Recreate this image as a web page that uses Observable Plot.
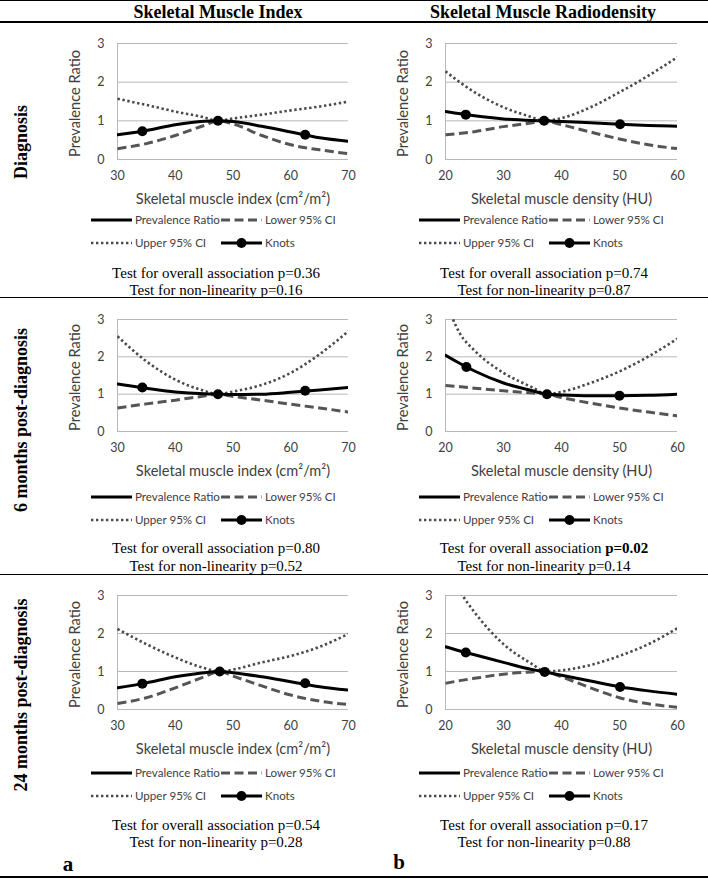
<!DOCTYPE html>
<html><head><meta charset="utf-8">
<script src="https://cdn.jsdelivr.net/npm/d3@7"></script>
<script src="https://cdn.jsdelivr.net/npm/@observablehq/plot@0.6"></script>
<style>
body{margin:0;background:#fff;}
#page{position:relative;width:708px;height:879px;overflow:hidden;background:#fff;font-family:"Liberation Serif","Times New Roman",serif;color:#000;}
.hline{position:absolute;left:0;width:708px;background:#000;}
.c{position:absolute;transform:translate(-50%,-50%);white-space:nowrap;line-height:1;}
.head{font-weight:bold;font-size:18px;}
.rowlab{font-weight:bold;font-size:18px;transform:translate(-50%,-50%) rotate(-90deg);}
.test{font-size:15px;}
.letter{font-weight:bold;font-size:21px;}
.abs{position:absolute;}
</style></head>
<body><div id="page"></div>
<script>
// ---------- text / ticks ----------
const colTitles = ["Skeletal Muscle Index", "Skeletal Muscle Radiodensity"];
const rowTitles = ["Diagnosis", "6 months post-diagnosis", "24 months post-diagnosis"];
const xLabels = ["Skeletal muscle index (cm²/m²)", "Skeletal muscle density (HU)"];
const yLabel = "Prevalence Ratio";
const smiTicks = [30, 40, 50, 60, 70];
const smdTicks = [20, 30, 40, 50, 60];
const yTicks = [0, 1, 2, 3];
const legendLabels = ["Prevalence Ratio", "Lower 95% CI", "Upper 95% CI", "Knots"];
const panelLetters = ["a", "b"];
// p-values [row][col]
const overallP = [["0.36", "0.74"], ["0.80", "0.02"], ["0.54", "0.17"]];
const nonlinP = [["0.16", "0.87"], ["0.52", "0.14"], ["0.28", "0.88"]];

// ---------- Diagnosis ----------
const diagSmiX  = [30, 35, 40, 45, 47.4, 50, 55, 60, 65, 70];
const diagSmiPR = [0.64, 0.75, 0.90, 0.99, 1.00, 0.98, 0.86, 0.71, 0.56, 0.47];
const diagSmiLo = [0.28, 0.41, 0.62, 0.88, 1.00, 0.92, 0.62, 0.38, 0.25, 0.15];
const diagSmiHi = [1.57, 1.41, 1.24, 1.09, 1.00, 1.06, 1.16, 1.27, 1.37, 1.50];
const diagSmiKx = [34.3, 47.4, 62.5];
const diagSmiKy = [0.73, 1.00, 0.64];

const diagSmdX  = [20, 25, 30, 35, 37, 40, 45, 50, 55, 60];
const diagSmdPR = [1.24, 1.13, 1.05, 1.01, 1.00, 0.98, 0.95, 0.91, 0.88, 0.86];
const diagSmdLo = [0.64, 0.72, 0.85, 0.95, 1.00, 0.90, 0.71, 0.53, 0.38, 0.28];
const diagSmdHi = [2.28, 1.74, 1.35, 1.09, 1.00, 1.07, 1.35, 1.74, 2.17, 2.65];
const diagSmdKx = [23.5, 37, 50.1];
const diagSmdKy = [1.16, 1.00, 0.91];

// ---------- 6 months ----------
const m6SmiX  = [30, 35, 40, 45, 47.4, 50, 55, 60, 65, 70];
const m6SmiPR = [1.27, 1.16, 1.06, 1.01, 1.00, 0.99, 1.00, 1.05, 1.11, 1.18];
const m6SmiLo = [0.63, 0.74, 0.84, 0.95, 1.00, 0.94, 0.84, 0.73, 0.63, 0.52];
const m6SmiHi = [2.55, 1.88, 1.39, 1.09, 1.00, 1.07, 1.25, 1.57, 2.07, 2.69];
const m6SmiKx = [34.3, 47.4, 62.5];
const m6SmiKy = [1.18, 1.00, 1.09];

const m6SmdX  = [20, 22.5, 25, 30, 35, 37.5, 40, 45, 50, 55, 60];
const m6SmdPR = [2.04, 1.82, 1.62, 1.30, 1.09, 1.00, 0.98, 0.96, 0.96, 0.97, 1.00];
const m6SmdLo = [1.23, 1.20, 1.16, 1.09, 1.03, 1.00, 0.91, 0.76, 0.63, 0.52, 0.42];
const m6SmdHi = [3.50, 2.62, 2.17, 1.57, 1.18, 1.00, 1.06, 1.30, 1.61, 2.01, 2.49];
const m6SmdKx = [23.6, 37.5, 50];
const m6SmdKy = [1.73, 1.00, 0.96];

// ---------- 24 months ----------
const m24SmiX  = [30, 35, 40, 45, 47.7, 50, 55, 60, 65, 70];
const m24SmiPR = [0.57, 0.70, 0.86, 0.97, 1.00, 0.97, 0.86, 0.73, 0.60, 0.51];
const m24SmiLo = [0.16, 0.31, 0.57, 0.86, 1.00, 0.88, 0.62, 0.38, 0.22, 0.13];
const m24SmiHi = [2.12, 1.72, 1.37, 1.09, 1.00, 1.05, 1.24, 1.41, 1.65, 1.99];
const m24SmiKx = [34.3, 47.7, 62.5];
const m24SmiKy = [0.68, 1.00, 0.69];

const m24SmdX  = [20, 22.5, 25, 30, 35, 37.1, 40, 45, 50, 55, 60];
const m24SmdPR = [1.65, 1.54, 1.44, 1.24, 1.05, 0.99, 0.90, 0.75, 0.60, 0.49, 0.40];
const m24SmdLo = [0.69, 0.76, 0.82, 0.93, 0.99, 1.00, 0.86, 0.57, 0.31, 0.15, 0.06];
const m24SmdHi = [3.75, 3.10, 2.56, 1.72, 1.19, 1.00, 1.03, 1.17, 1.41, 1.72, 2.14];
const m24SmdKx = [23.5, 37.1, 50.1];
const m24SmdKy = [1.50, 0.99, 0.59];

const panels = [
  [{x: diagSmiX, pr: diagSmiPR, lo: diagSmiLo, hi: diagSmiHi, kx: diagSmiKx, ky: diagSmiKy},
   {x: diagSmdX, pr: diagSmdPR, lo: diagSmdLo, hi: diagSmdHi, kx: diagSmdKx, ky: diagSmdKy}],
  [{x: m6SmiX, pr: m6SmiPR, lo: m6SmiLo, hi: m6SmiHi, kx: m6SmiKx, ky: m6SmiKy},
   {x: m6SmdX, pr: m6SmdPR, lo: m6SmdLo, hi: m6SmdHi, kx: m6SmdKx, ky: m6SmdKy}],
  [{x: m24SmiX, pr: m24SmiPR, lo: m24SmiLo, hi: m24SmiHi, kx: m24SmiKx, ky: m24SmiKy},
   {x: m24SmdX, pr: m24SmdPR, lo: m24SmdLo, hi: m24SmdHi, kx: m24SmdKx, ky: m24SmdKy}]
];
const colTicks = [smiTicks, smdTicks];

// ---------- layout ----------
const page = document.getElementById("page");
const frameLeft = [117, 445], frameW = [231, 232];
const frameTop = [43, 319, 595], frameH = [116, 112, 114];
const legendY = [[220, 243], [497, 520], [773, 796]];
const testY = [[273, 290], [548, 566], [825, 842]];
const testX = [216, 544];
const ML = 67, MR = 14, MT = 14, MB = 52;
const LO_COLOR = "#555555", HI_COLOR = "#4a4a4a";
const LO_DASH = "9,4.5", HI_DASH = "2.4,2.6";
const sansFont = "Lato, 'Open Sans', sans-serif";

function addText(cls, html, x, y) {
  const d = document.createElement("div");
  d.className = "c " + cls;
  d.innerHTML = html;
  d.style.left = x + "px"; d.style.top = y + "px";
  page.appendChild(d);
  return d;
}
function hline(y, h) {
  const d = document.createElement("div");
  d.className = "hline"; d.style.top = y + "px"; d.style.height = h + "px";
  page.appendChild(d);
}
hline(0, 1); hline(21, 2); hline(296.5, 1.5); hline(573.5, 1.5); hline(876, 2);

addText("head", colTitles[0], 218, 12);
addText("head", colTitles[1], 543, 12);
[142, 420, 695].forEach((y, i) => addText("rowlab", rowTitles[i], 21, y));
addText("letter", panelLetters[0], 68, 864);
addText("letter", panelLetters[1], 399, 862);

function makePanel(p, row, col) {
  const data = p.x.map((x, i) => ({x, pr: p.pr[i], lo: p.lo[i], hi: p.hi[i]}));
  const knots = p.kx.map((x, i) => ({x, y: p.ky[i]}));
  const ticks = colTicks[col];
  const domain = [ticks[0], ticks[ticks.length - 1]];
  const chart = Plot.plot({
    width: ML + frameW[col] + MR,
    height: MT + frameH[row] + MB,
    marginLeft: ML, marginRight: MR, marginTop: MT, marginBottom: MB,
    style: {fontFamily: sansFont, fontSize: "12px", color: "#404040", background: "transparent", overflow: "visible"},
    x: {domain, ticks},
    y: {domain: [0, 3], ticks: yTicks},
    marks: [
      Plot.gridY(yTicks.slice(1), {stroke: "#b8b8b8", strokeOpacity: 1, strokeWidth: 1}),
      Plot.ruleY([0], {stroke: "#b8b8b8", strokeWidth: 1}),
      Plot.ruleX([domain[0]], {stroke: "#b8b8b8", strokeWidth: 1}),
      Plot.axisX({ticks, tickSize: 0, tickPadding: 12, label: null, fontSize: 12.5, tickFormat: d => String(d)}),
      Plot.axisY({ticks: yTicks, tickSize: 0, tickPadding: 13, label: null, fontSize: 12.5, tickFormat: d => String(d)}),
      Plot.text([xLabels[col]], {frameAnchor: "bottom", lineAnchor: "middle", dy: 40, fontSize: 14.6, fill: "#404040"}),
      Plot.text([yLabel], {frameAnchor: "left", textAnchor: "middle", lineAnchor: "middle", rotate: -90, dx: -42, dy: 2, fontSize: 14.6, fill: "#404040"}),
      Plot.line(data, {x: "x", y: "hi", curve: "monotone-x", stroke: HI_COLOR, strokeWidth: 2.6, strokeDasharray: HI_DASH, strokeLinecap: "butt", clip: true}),
      Plot.line(data, {x: "x", y: "lo", curve: "monotone-x", stroke: LO_COLOR, strokeWidth: 3, strokeDasharray: LO_DASH, strokeLinecap: "butt", clip: true}),
      Plot.line(data, {x: "x", y: "pr", curve: "monotone-x", stroke: "#000", strokeWidth: 3, clip: true}),
      Plot.dot(knots, {x: "x", y: "y", r: 5, fill: "#000", stroke: "none"})
    ]
  });
  chart.style.position = "absolute";
  chart.style.left = (frameLeft[col] - ML) + "px";
  chart.style.top = (frameTop[row] - MT) + "px";
  page.appendChild(chart);

  // legend
  const L = d3.create("svg").attr("width", 300).attr("height", 40)
    .style("position", "absolute").style("overflow", "visible")
    .style("left", (frameLeft[col] - 30) + "px").style("top", (legendY[row][0] - 10) + "px");
  const rows = [10, 10 + legendY[row][1] - legendY[row][0]];
  const entries = [
    {lab: legendLabels[0], cx: 4, r: 0, stroke: "#000", dash: null, w: 3},
    {lab: legendLabels[1], cx: 134, r: 0, stroke: LO_COLOR, dash: LO_DASH, w: 3},
    {lab: legendLabels[2], cx: 4, r: 1, stroke: HI_COLOR, dash: HI_DASH, w: 2.6},
    {lab: legendLabels[3], cx: 134, r: 1, stroke: "#000", dash: null, w: 3, knot: true}
  ];
  entries.forEach(e => {
    const y = rows[e.r];
    L.append("line").attr("x1", e.cx).attr("x2", e.cx + 41).attr("y1", y).attr("y2", y)
      .attr("stroke", e.stroke).attr("stroke-width", e.w).attr("stroke-dasharray", e.dash);
    if (e.knot) L.append("circle").attr("cx", e.cx + 20.5).attr("cy", y).attr("r", 5).attr("fill", "#000");
    L.append("text").attr("x", e.cx + 44).attr("y", y).attr("dy", "0.35em")
      .attr("font-family", sansFont).attr("font-size", 11.6).attr("fill", "#404040").text(e.lab);
  });
  page.appendChild(L.node());

  // test text
  const sig = +overallP[row][col] < 0.05;
  const pv = "p=" + overallP[row][col];
  addText("test", "Test for overall association " + (sig ? "<b>" + pv + "</b>" : pv), testX[col], testY[row][0]);
  addText("test", "Test for non-linearity p=" + nonlinP[row][col], testX[col], testY[row][1]);
}

panels.forEach((r, ri) => r.forEach((p, ci) => makePanel(p, ri, ci)));
</script>
</body></html>
